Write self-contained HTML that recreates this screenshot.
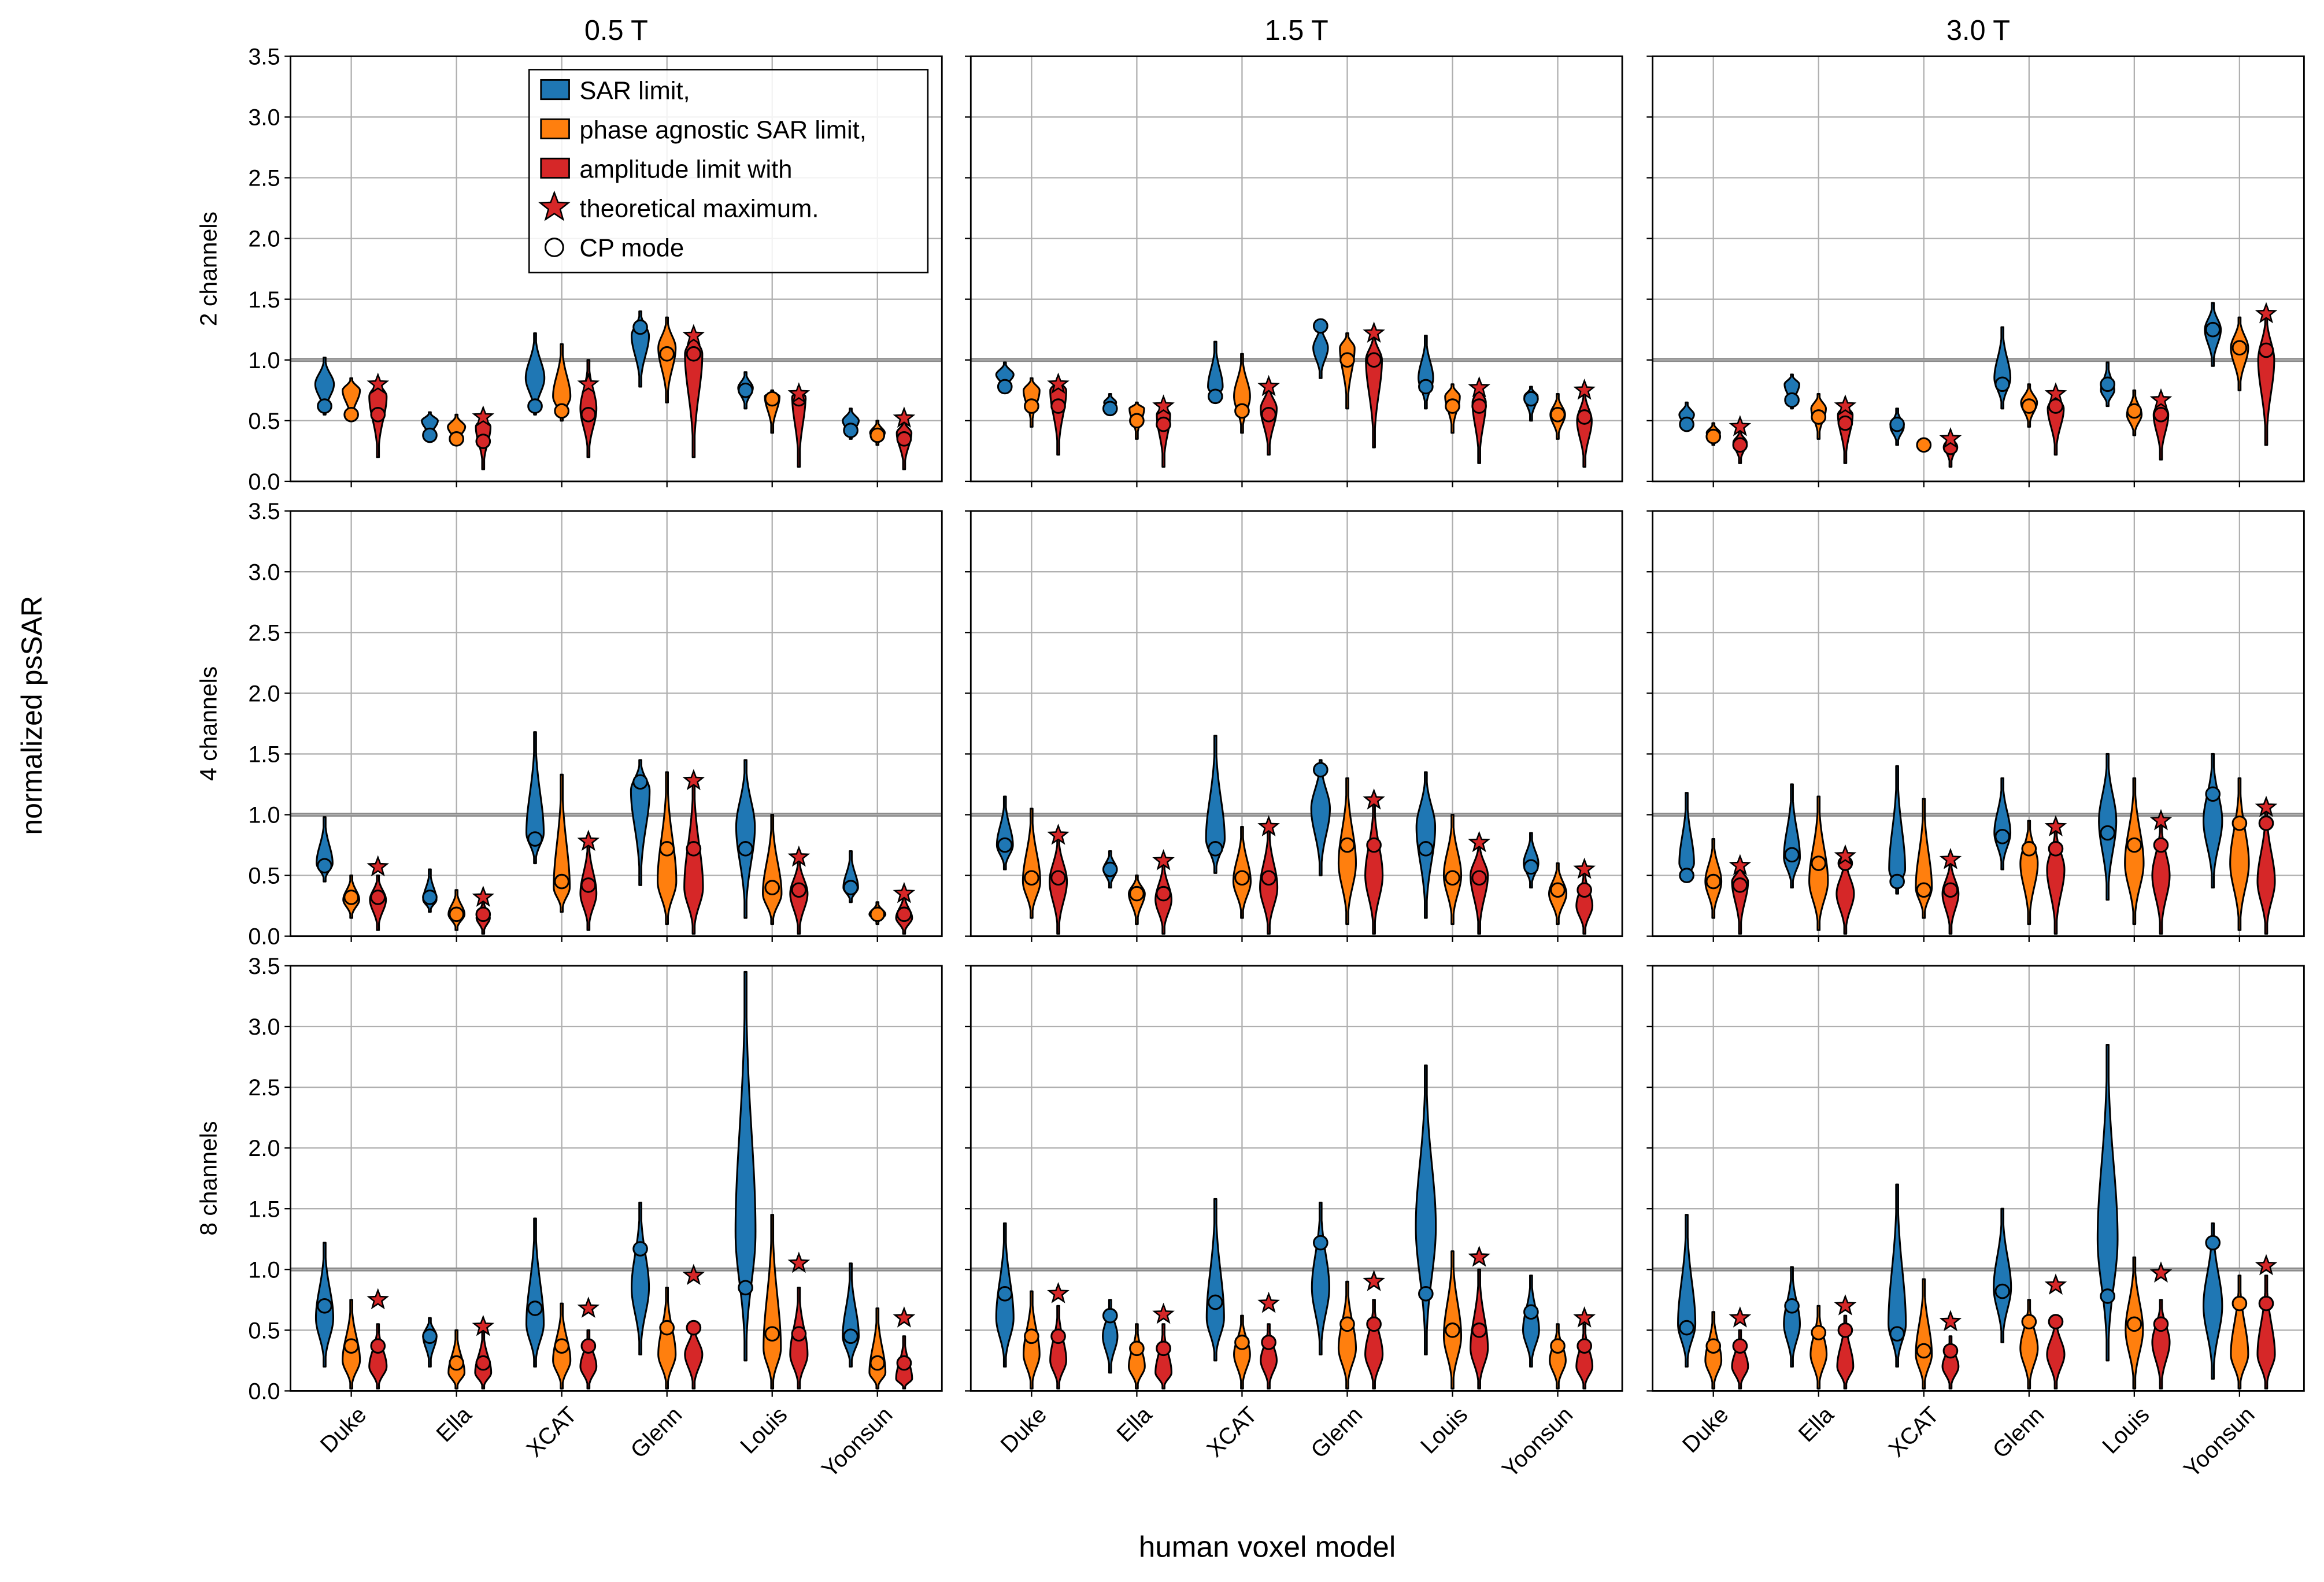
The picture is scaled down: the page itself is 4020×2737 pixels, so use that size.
<!DOCTYPE html>
<html><head><meta charset="utf-8"><style>
html,body{margin:0;padding:0;background:#fff;}
svg{display:block;}
text{font-family:"Liberation Sans","DejaVu Sans",sans-serif;fill:#000;}
</style></head><body>
<svg id="fig" xmlns="http://www.w3.org/2000/svg" width="4020" height="2737" viewBox="0 0 1568 1068" preserveAspectRatio="none"></svg>
<script>
const models = ["Duke","Ella","XCAT","Glenn","Louis","Yoonsun"];
const fields = ["0.5 T","1.5 T","3.0 T"];
const rowLabels = ["2 channels","4 channels","8 channels"];
const yTicks = [0,0.5,1.0,1.5,2.0,2.5,3.0,3.5];
const colors = ["#1f77b4","#ff7f0e","#d62728"];
// each violin: [min, max, mode, halfWidthScale, cp]; red violins have 6th entry: star (theoretical max)
const r1c1 = [[[0.55,1.02,0.8,14,0.62],[0.5,0.85,0.75,13,0.55],[0.2,0.85,0.7,13,0.55,0.8]],[[0.35,0.57,0.5,12,0.38],[0.3,0.55,0.45,13,0.35],[0.1,0.55,0.45,11,0.33,0.53]],[[0.55,1.22,0.85,14,0.62],[0.5,1.13,0.7,13,0.58],[0.2,1.0,0.6,12,0.55,0.8]],[[0.78,1.4,1.2,13,1.27],[0.65,1.35,1.1,13,1.05],[0.2,1.25,1.05,13,1.05,1.2]],[[0.6,0.9,0.77,11,0.75],[0.4,0.75,0.7,11,0.68],[0.12,0.75,0.7,10,0.68,0.72]],[[0.35,0.6,0.5,12,0.42],[0.3,0.5,0.4,11,0.38],[0.1,0.5,0.4,11,0.35,0.52]]];
const r1c2 = [[[0.75,0.98,0.88,13,0.78],[0.45,0.85,0.75,12,0.62],[0.22,0.85,0.75,12,0.62,0.8]],[[0.55,0.72,0.65,9,0.6],[0.35,0.65,0.6,11,0.5],[0.12,0.65,0.55,10,0.47,0.62]],[[0.65,1.15,0.78,11,0.7],[0.4,1.05,0.7,12,0.58],[0.22,0.8,0.6,12,0.55,0.78]],[[0.85,1.3,1.1,11,1.28],[0.6,1.22,1.1,11,1.0],[0.28,1.22,1.0,12,1.0,1.22]],[[0.6,1.2,0.85,11,0.78],[0.4,0.8,0.7,11,0.62],[0.15,0.8,0.65,10,0.62,0.77]],[[0.5,0.78,0.7,10,0.68],[0.35,0.72,0.55,11,0.55],[0.12,0.75,0.5,11,0.53,0.75]]];
const r1c3 = [[[0.42,0.65,0.55,11,0.47],[0.3,0.48,0.4,10,0.37],[0.15,0.42,0.32,10,0.3,0.45]],[[0.6,0.88,0.8,11,0.67],[0.35,0.72,0.6,11,0.53],[0.15,0.65,0.55,11,0.48,0.62]],[[0.3,0.6,0.45,10,0.47],[0.25,0.35,0.3,9,0.3],[0.12,0.38,0.3,9,0.28,0.35]],[[0.6,1.27,0.85,12,0.8],[0.45,0.8,0.65,12,0.62],[0.22,0.75,0.6,12,0.62,0.72]],[[0.62,0.98,0.75,10,0.8],[0.38,0.75,0.55,11,0.58],[0.18,0.72,0.55,11,0.55,0.67]],[[0.95,1.47,1.25,12,1.25],[0.75,1.35,1.1,13,1.1],[0.3,1.38,1.0,12,1.08,1.38]]];
const r2c1 = [[[0.45,0.98,0.6,12,0.58],[0.15,0.5,0.3,12,0.32],[0.05,0.5,0.3,12,0.32,0.57]],[[0.2,0.55,0.3,10,0.32],[0.05,0.38,0.18,12,0.18],[0.02,0.3,0.15,10,0.18,0.32]],[[0.6,1.68,0.85,13,0.8],[0.2,1.33,0.4,12,0.45],[0.05,0.8,0.35,12,0.42,0.78]],[[0.42,1.45,1.2,14,1.27],[0.1,1.35,0.45,14,0.72],[0.02,1.3,0.4,14,0.72,1.28]],[[0.15,1.45,0.9,14,0.72],[0.1,1.0,0.35,14,0.4],[0.02,0.65,0.35,13,0.38,0.65]],[[0.28,0.7,0.4,11,0.4],[0.1,0.28,0.18,12,0.18],[0.02,0.35,0.15,12,0.18,0.35]]];
const r2c2 = [[[0.55,1.15,0.75,12,0.75],[0.15,1.05,0.45,13,0.48],[0.02,0.83,0.45,13,0.48,0.83]],[[0.4,0.7,0.55,10,0.55],[0.1,0.5,0.35,12,0.35],[0.02,0.62,0.3,12,0.35,0.62]],[[0.52,1.65,0.8,14,0.72],[0.15,0.9,0.45,13,0.48],[0.02,0.9,0.4,13,0.48,0.9]],[[0.5,1.45,1.05,14,1.37],[0.1,1.3,0.6,13,0.75],[0.02,1.12,0.5,13,0.75,1.12]],[[0.15,1.35,0.9,14,0.72],[0.1,1.0,0.5,13,0.48],[0.02,0.77,0.5,13,0.48,0.77]],[[0.4,0.85,0.6,11,0.57],[0.1,0.6,0.35,13,0.38],[0.02,0.55,0.25,12,0.38,0.55]]];
const r2c3 = [[[0.45,1.18,0.6,11,0.5],[0.15,0.8,0.45,12,0.45],[0.02,0.58,0.45,12,0.42,0.58]],[[0.4,1.25,0.65,12,0.67],[0.05,1.15,0.45,14,0.6],[0.02,0.66,0.35,13,0.6,0.66]],[[0.35,1.4,0.55,12,0.45],[0.15,1.13,0.4,12,0.38],[0.02,0.63,0.35,12,0.38,0.63]],[[0.55,1.3,0.85,12,0.82],[0.1,0.95,0.6,13,0.72],[0.02,0.9,0.55,13,0.72,0.9]],[[0.3,1.5,0.95,13,0.85],[0.1,1.3,0.6,14,0.75],[0.02,0.95,0.5,13,0.75,0.95]],[[0.4,1.5,0.95,14,1.17],[0.05,1.3,0.6,14,0.93],[0.02,1.06,0.45,13,0.93,1.06]]];
const r3c1 = [[[0.2,1.22,0.6,13,0.7],[0.02,0.75,0.25,13,0.37],[0.02,0.55,0.2,13,0.37,0.75]],[[0.2,0.6,0.45,10,0.45],[0.02,0.5,0.15,12,0.23],[0.02,0.5,0.15,12,0.23,0.53]],[[0.2,1.42,0.55,13,0.68],[0.02,0.72,0.25,13,0.37],[0.02,0.5,0.2,12,0.37,0.68]],[[0.3,1.55,0.85,13,1.17],[0.02,0.85,0.3,13,0.52],[0.02,0.55,0.3,13,0.52,0.95]],[[0.25,3.45,1.3,15,0.85],[0.02,1.45,0.35,13,0.47],[0.02,0.85,0.3,13,0.47,1.05]],[[0.2,1.05,0.45,12,0.45],[0.02,0.68,0.15,12,0.23],[0.02,0.45,0.1,12,0.23,0.6]]];
const r3c2 = [[[0.2,1.38,0.6,13,0.8],[0.02,0.82,0.3,12,0.45],[0.02,0.7,0.25,12,0.45,0.8]],[[0.15,0.75,0.45,11,0.62],[0.02,0.55,0.2,12,0.35],[0.02,0.55,0.15,12,0.35,0.63]],[[0.25,1.58,0.6,13,0.73],[0.02,0.62,0.3,12,0.4],[0.02,0.55,0.25,12,0.4,0.72]],[[0.3,1.55,0.85,13,1.22],[0.02,0.9,0.35,13,0.55],[0.02,0.75,0.3,13,0.55,0.9]],[[0.3,2.68,1.35,15,0.8],[0.02,1.15,0.45,13,0.5],[0.02,1.0,0.35,13,0.5,1.1]],[[0.2,0.95,0.5,12,0.65],[0.02,0.55,0.25,12,0.37],[0.02,0.55,0.2,12,0.37,0.6]]];
const r3c3 = [[[0.2,1.45,0.55,13,0.52],[0.02,0.65,0.25,12,0.37],[0.02,0.5,0.2,12,0.37,0.6]],[[0.2,1.02,0.55,12,0.7],[0.02,0.7,0.3,12,0.48],[0.02,0.62,0.2,12,0.5,0.7]],[[0.2,1.7,0.55,13,0.47],[0.02,0.92,0.3,12,0.33],[0.02,0.45,0.2,12,0.33,0.57]],[[0.4,1.5,0.85,13,0.82],[0.02,0.75,0.35,13,0.57],[0.02,0.6,0.3,13,0.57,0.87]],[[0.25,2.85,1.25,15,0.78],[0.02,1.1,0.5,13,0.55],[0.02,0.75,0.4,13,0.55,0.97]],[[0.1,1.38,0.7,14,1.22],[0.02,0.95,0.3,13,0.72],[0.02,0.95,0.3,13,0.72,1.03]]];
const panels = [[r1c1,r1c2,r1c3],[r2c1,r2c2,r2c3],[r3c1,r3c2,r3c3]];

const NS="http://www.w3.org/2000/svg";
const svg=document.getElementById('fig');
function mk(tag,attrs,parent){const e=document.createElementNS(NS,tag);for(const k in attrs)e.setAttribute(k,attrs[k]);(parent||svg).appendChild(e);return e;}
const colX=[196,655,1115], colW=439.5;
const rowY=[38,345,652], rowH=287;
function starPath(cx,cy,R){let p="";for(let i=0;i<10;i++){const r=i%2?R*0.42:R;const a=-Math.PI/2+i*Math.PI/5;p+=(i?"L":"M")+(cx+r*Math.cos(a)).toFixed(2)+","+(cy+r*Math.sin(a)).toFixed(2);}return p+"Z";}

for(let r=0;r<3;r++)for(let c=0;c<3;c++){
  const x0=colX[c],y0=rowY[r];
  const g=mk('g',{});
  
  
  const ys=v=>y0+rowH-v/3.5*rowH;
  const xs=i=>x0+41+i*71;
  yTicks.forEach(t=>{mk('line',{x1:x0,x2:x0+colW,y1:ys(t),y2:ys(t),stroke:'#b0b0b0','stroke-width':0.9},g);
    mk('line',{x1:x0-4,x2:x0,y1:ys(t),y2:ys(t),stroke:'#000','stroke-width':0.9},g);
    if(c===0){const tl=mk('text',{x:x0-7,y:ys(t)+5.5,'text-anchor':'end','font-size':15.5},g);tl.textContent=t.toFixed(1);
      }});
  models.forEach((m,i)=>{mk('line',{x1:xs(i),x2:xs(i),y1:y0,y2:y0+rowH,stroke:'#b0b0b0','stroke-width':0.9},g);
    mk('line',{x1:xs(i),x2:xs(i),y1:y0+rowH,y2:y0+rowH+4,stroke:'#000','stroke-width':0.9},g);
    if(r===2){const tx=xs(i)+4,ty=y0+rowH+10;const tl=mk('text',{x:tx,y:ty+10,'text-anchor':'end','font-size':15.5,transform:`rotate(-45 ${tx} ${ty})`},g);tl.textContent=m;
      }});
  const ref=mk('line',{x1:x0,x2:x0+colW,y1:ys(1),y2:ys(1),stroke:'#8a8a8a','stroke-width':2.6},g);
  
  mk('line',{x1:x0,x2:x0+colW,y1:ys(1),y2:ys(1),stroke:'#b8b8b8','stroke-width':0.7},g);
  panels[r][c].forEach((grp,i)=>{grp.forEach((d,k)=>{
    const [mn,mx,mo,w,cp,st]=d; const cx=xs(i)+(k-1)*18; const hw=w*0.45;
    const sU=(mx-mo)/2.6, sD=(mo-mn)/2.6; const pts=[];
    for(let j=0;j<=60;j++){const v=mn+(mx-mn)*j/60;const s=v>=mo?sU:sD;const z=s>0?(v-mo)/s:0;pts.push([v,Math.max(0.7,hw*Math.exp(-z*z/2))]);}
    let p="";pts.forEach((q,j)=>{p+=(j?"L":"M")+(cx+q[1]).toFixed(2)+","+ys(q[0]).toFixed(2);});
    for(let j=pts.length-1;j>=0;j--){p+="L"+(cx-pts[j][1]).toFixed(2)+","+ys(pts[j][0]).toFixed(2);}
    const vi=mk('path',{d:p+"Z",fill:colors[k],stroke:'#000','stroke-width':1.2,'stroke-linejoin':'round'},g);
    
    
    const cc=mk('circle',{cx:cx,cy:ys(cp),r:4.6,fill:colors[k],stroke:'#000','stroke-width':1.2},g);
    
    if(st!==undefined){const sp=mk('path',{d:starPath(cx,ys(st),6.5),fill:'#d62728',stroke:'#000','stroke-width':1,'stroke-linejoin':'miter'},g);
      }
  });});
  const fr=mk('rect',{x:x0,y:y0,width:colW,height:rowH,fill:'none',stroke:'#000','stroke-width':1.1},g);
  
  if(r===0){const t=mk('text',{x:x0+colW/2,y:27,'text-anchor':'middle','font-size':19},g);t.textContent=fields[c];
    }
  if(c===0){const yy=y0+rowH/2;const t=mk('text',{x:146,y:yy,'text-anchor':'middle','font-size':16,transform:`rotate(-90 146 ${yy})`},g);t.textContent=rowLabels[r];
    }
}
const yl=mk('text',{x:28,y:483,'text-anchor':'middle','font-size':19.5,transform:'rotate(-90 28 483)'});yl.textContent='normalized psSAR';

const xl=mk('text',{x:855,y:1051,'text-anchor':'middle','font-size':20});xl.textContent='human voxel model';

const lg=mk('g',{});
mk('rect',{x:357,y:47,width:269,height:137,fill:'#fff','fill-opacity':0.85,stroke:'#000','stroke-width':1},lg);
const legTexts=["SAR limit,","phase agnostic SAR limit,","amplitude limit with","theoretical maximum.","CP mode"];
legTexts.forEach((s,i)=>{const y=61+i*26.5;
  let m;
  if(i<3){m=mk('rect',{x:365,y:y-7,width:19,height:13,fill:colors[i],stroke:'#000','stroke-width':1.1},lg);}
  else if(i===3){m=mk('path',{d:starPath(374,y-0.5,10),fill:'#d62728',stroke:'#000','stroke-width':1},lg);}
  else{m=mk('circle',{cx:374,cy:y,r:6,fill:'#fff',stroke:'#000','stroke-width':1.2},lg);}
  
  const t=mk('text',{x:391,y:y+6,'font-size':17},lg);t.textContent=s;
  });
</script>
</body></html>
